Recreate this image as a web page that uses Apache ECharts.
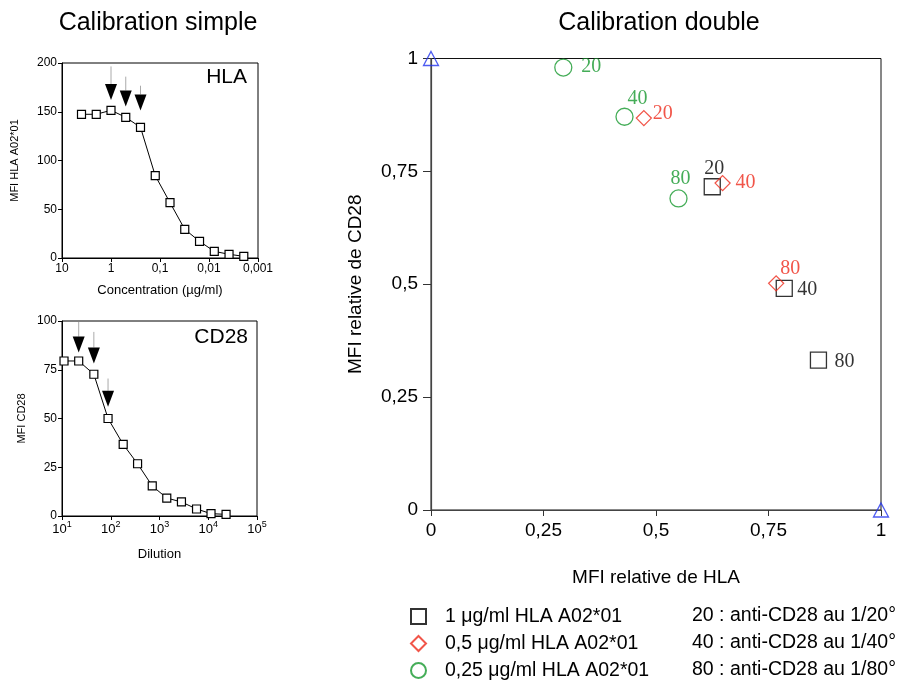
<!DOCTYPE html>
<html><head><meta charset="utf-8">
<script src="https://cdn.jsdelivr.net/npm/echarts@6/dist/echarts.min.js"></script>
<style>html,body{margin:0;padding:0;background:#fff}#c{width:905px;height:688px}</style>
</head><body><div id="c"></div>
<script>
// ---- data ----
const hlaConcentration = [4, 2, 1, 0.5, 0.25, 0.125, 0.0625, 0.03125, 0.0156, 0.0078, 0.0039, 0.00195];
const hlaMFI = [147.4, 147.4, 151.5, 144.3, 134, 84.4, 56.8, 29.4, 17.1, 6.8, 3.8, 1.7];
const hlaArrows = [[1, 196.5, 162], [0.5, 186, 155.5], [0.25, 176.7, 151.4]];
const hlaXTickLabels = ['10', '1', '0,1', '0,01', '0,001'];
const hlaYTicks = [0, 50, 100, 150, 200];
const cd28Dilution = [11, 22, 45, 88, 180, 355, 710, 1410, 2820, 5750, 11400, 23200];
const cd28MFI = [79.5, 79.5, 72.7, 50, 36.7, 26.8, 15.4, 9.2, 7.2, 3.6, 1.2, 0.85];
const cd28Arrows = [[22, 99.5, 83.8], [45, 94.4, 78.2], [88, 70.5, 56]];
const cd28YTicks = [0, 25, 50, 75, 100];
const relTickLabels = ['0', '0,25', '0,5', '0,75', '1'];
const dilutionLabels = ['20', '40', '80'];
const rel1ug = [[0.625, 0.716], [0.785, 0.491], [0.861, 0.332]];
const rel05ug = [[0.473, 0.868], [0.648, 0.724], [0.767, 0.502]];
const rel025ug = [[0.294, 0.980], [0.430, 0.871], [0.550, 0.690]];
const references = [[0, 1], [1, 0]];
const seriesNames = ['1 μg/ml HLA A02*01', '0,5 μg/ml HLA A02*01', '0,25 μg/ml HLA A02*01'];
const dilutionNotes = ['20 : anti-CD28 au 1/20°', '40 : anti-CD28 au 1/40°', '80 : anti-CD28 au 1/80°'];
const titles = ['Calibration simple', 'Calibration double'];

// ---- styling ----
const FONT = 'Liberation Sans';
const SERIF = 'Liberation Serif';
const BLACK = '#000', RED = '#ee2a1c', GREEN = '#17982e', BLUE = '#2233ee';
const labelOffsets = [
  [[2, -18], [23, 1], [26, 2]],
  [[19, -4], [23, 0], [14, -15]],
  [[28, -1], [13, -18], [2, -20]]
];

function arrowItem(params, api) {
  const top = api.coord([api.value(0), api.value(1)]);
  const tip = api.coord([api.value(0), api.value(2)]);
  const headH = 16, headW = 12;
  return {
    type: 'group', children: [
      { type: 'line', shape: { x1: top[0], y1: top[1], x2: tip[0], y2: tip[1] - headH }, style: { stroke: '#aaa', lineWidth: 1 } },
      { type: 'polygon', shape: { points: [[tip[0] - headW / 2, tip[1] - headH], [tip[0] + headW / 2, tip[1] - headH], [tip[0], tip[1]]] }, style: { fill: '#000' } }
    ]
  };
}

const smallAxisCommon = {
  axisLine: { lineStyle: { color: '#000', width: 1 } },
  axisTick: { show: true, inside: false, length: 4, lineStyle: { color: '#000' } },
  splitLine: { show: false },
  axisLabel: { color: '#000', fontSize: 12, fontFamily: FONT, margin: 5 },
  nameTextStyle: { color: '#000', fontFamily: FONT }
};

function mainSeries(name, data, symbol, size, color, idx) {
  return {
    type: 'scatter', name: name, xAxisIndex: 2, yAxisIndex: 2, clip: false,
    symbol: symbol, symbolSize: size,
    itemStyle: { color: 'rgba(255,255,255,0)', borderColor: color, borderWidth: 1.3 },
    data: data.map((p, i) => ({ value: p, label: { offset: labelOffsets[idx][i] } })),
    label: {
      show: true, position: 'inside', color: color, fontFamily: SERIF, fontSize: 20,
      formatter: (p) => dilutionLabels[p.dataIndex]
    },
    emphasis: { disabled: true }
  };
}

const chart = echarts.init(document.getElementById('c'), null, { renderer: 'canvas' });
chart.setOption({
  animation: false,
  textStyle: { fontFamily: FONT },
  grid: [
    { left: 62, top: 63, width: 196, height: 195, show: true, borderColor: '#000', borderWidth: 1 },
    { left: 62, top: 321, width: 195, height: 195, show: true, borderColor: '#000', borderWidth: 1 },
    { left: 431, top: 58.5, width: 450, height: 451.5, show: true, borderColor: '#111', borderWidth: 1 }
  ],
  xAxis: [
    Object.assign({}, smallAxisCommon, {
      gridIndex: 0, type: 'log', logBase: 10, min: 0.001, max: 10, inverse: true,
      name: 'Concentration (µg/ml)', nameLocation: 'middle', nameGap: 26,
      nameTextStyle: { color: '#000', fontFamily: FONT, fontSize: 13 },
      axisLabel: Object.assign({}, smallAxisCommon.axisLabel, {
        formatter: (v) => hlaXTickLabels[1 - Math.round(Math.log10(v))]
      }),
      minorTick: { show: false }
    }),
    Object.assign({}, smallAxisCommon, {
      gridIndex: 1, type: 'log', logBase: 10, min: 10, max: 100000,
      name: 'Dilution', nameLocation: 'middle', nameGap: 32,
      nameTextStyle: { color: '#000', fontFamily: FONT, fontSize: 13 },
      axisLabel: {
        color: '#000', fontFamily: FONT, fontSize: 13, margin: 4, lineHeight: 18,
        formatter: (v) => '10{s|' + Math.round(Math.log10(v)) + '}',
        rich: { s: { fontSize: 9, lineHeight: 10, verticalAlign: 'top', color: '#000', fontFamily: FONT } }
      }
    }),
    {
      gridIndex: 2, type: 'value', min: 0, max: 1, interval: 0.25,
      name: 'MFI relative de HLA', nameLocation: 'middle', nameGap: 58,
      nameTextStyle: { color: '#000', fontFamily: FONT, fontSize: 19 },
      axisLine: { lineStyle: { color: '#444', width: 1.2 } },
      axisTick: { show: true, inside: false, length: 6, lineStyle: { color: '#333' } },
      splitLine: { show: false },
      axisLabel: { color: '#000', fontSize: 19, fontFamily: FONT, margin: 11, formatter: (v) => relTickLabels[Math.round(v * 4)] }
    }
  ],
  yAxis: [
    Object.assign({}, smallAxisCommon, {
      gridIndex: 0, type: 'value', min: hlaYTicks[0], max: hlaYTicks[hlaYTicks.length - 1], interval: hlaYTicks[1] - hlaYTicks[0],
      name: 'MFI HLA A02*01', nameLocation: 'middle', nameGap: 42,
      nameTextStyle: { color: '#000', fontFamily: FONT, fontSize: 11 }
    }),
    Object.assign({}, smallAxisCommon, {
      gridIndex: 1, type: 'value', min: cd28YTicks[0], max: cd28YTicks[cd28YTicks.length - 1], interval: cd28YTicks[1] - cd28YTicks[0],
      name: 'MFI CD28', nameLocation: 'middle', nameGap: 35,
      nameTextStyle: { color: '#000', fontFamily: FONT, fontSize: 11 }
    }),
    {
      gridIndex: 2, type: 'value', min: 0, max: 1, interval: 0.25,
      name: 'MFI relative de CD28', nameLocation: 'middle', nameGap: 66,
      nameTextStyle: { color: '#000', fontFamily: FONT, fontSize: 19 },
      axisLine: { lineStyle: { color: '#444', width: 1.2 } },
      axisTick: { show: true, inside: false, length: 8, lineStyle: { color: '#333' } },
      splitLine: { show: false },
      axisLabel: { color: '#000', fontSize: 19, fontFamily: FONT, margin: 13, formatter: (v) => relTickLabels[Math.round(v * 4)] }
    }
  ],
  legend: {
    orient: 'vertical', left: 410, top: 606, height: 82, padding: 0,
    itemWidth: 15, itemHeight: 15, itemGap: 6,
    data: seriesNames, selectedMode: false,
    textStyle: { color: '#000', fontSize: 19.5, fontFamily: FONT, lineHeight: 21, padding: [0, 0, 0, 14] }
  },
  series: [
    {
      type: 'line', xAxisIndex: 0, yAxisIndex: 0, symbol: 'rect', symbolSize: 8,
      data: hlaConcentration.map((c, i) => [c, hlaMFI[i]]),
      lineStyle: { color: '#000', width: 1 },
      itemStyle: { color: '#fff', borderColor: '#000', borderWidth: 1.2 }, z: 3
    },
    {
      type: 'custom', xAxisIndex: 0, yAxisIndex: 0, renderItem: arrowItem,
      encode: { x: 0, y: [1, 2] }, data: hlaArrows, clip: false, z: 4
    },
    {
      type: 'line', xAxisIndex: 1, yAxisIndex: 1, symbol: 'rect', symbolSize: 8,
      data: cd28Dilution.map((d, i) => [d, cd28MFI[i]]),
      lineStyle: { color: '#000', width: 1 },
      itemStyle: { color: '#fff', borderColor: '#000', borderWidth: 1.2 }, z: 3
    },
    {
      type: 'custom', xAxisIndex: 1, yAxisIndex: 1, renderItem: arrowItem,
      encode: { x: 0, y: [1, 2] }, data: cd28Arrows, clip: false, z: 4
    },
    mainSeries(seriesNames[0], rel1ug, 'rect', 16, BLACK, 0),
    mainSeries(seriesNames[1], rel05ug, 'diamond', 15, RED, 1),
    mainSeries(seriesNames[2], rel025ug, 'circle', 17, GREEN, 2),
    {
      type: 'scatter', xAxisIndex: 2, yAxisIndex: 2, clip: false, symbol: 'triangle', symbolSize: [15, 14],
      itemStyle: { color: 'rgba(255,255,255,0)', borderColor: BLUE, borderWidth: 1.3 },
      data: references, z: 5
    }
  ],
  graphic: [
    { type: 'text', x: 158, y: 23, style: { text: titles[0], fill: '#000', font: '25px "Liberation Sans"', align: 'center', verticalAlign: 'middle' } },
    { type: 'text', x: 659, y: 23, style: { text: titles[1], fill: '#000', font: '25px "Liberation Sans"', align: 'center', verticalAlign: 'middle' } },
    { type: 'text', x: 247, y: 77, style: { text: 'HLA', fill: '#000', font: '21px "Liberation Sans"', align: 'right', verticalAlign: 'middle' } },
    { type: 'text', x: 248, y: 337, style: { text: 'CD28', fill: '#000', font: '21px "Liberation Sans"', align: 'right', verticalAlign: 'middle' } },
    { type: 'text', x: 692, y: 616, style: { text: dilutionNotes[0], fill: '#000', font: '19.5px "Liberation Sans"', align: 'left', verticalAlign: 'middle' } },
    { type: 'text', x: 692, y: 643, style: { text: dilutionNotes[1], fill: '#000', font: '19.5px "Liberation Sans"', align: 'left', verticalAlign: 'middle' } },
    { type: 'text', x: 692, y: 670, style: { text: dilutionNotes[2], fill: '#000', font: '19.5px "Liberation Sans"', align: 'left', verticalAlign: 'middle' } }
  ]
});
</script>
</body></html>
